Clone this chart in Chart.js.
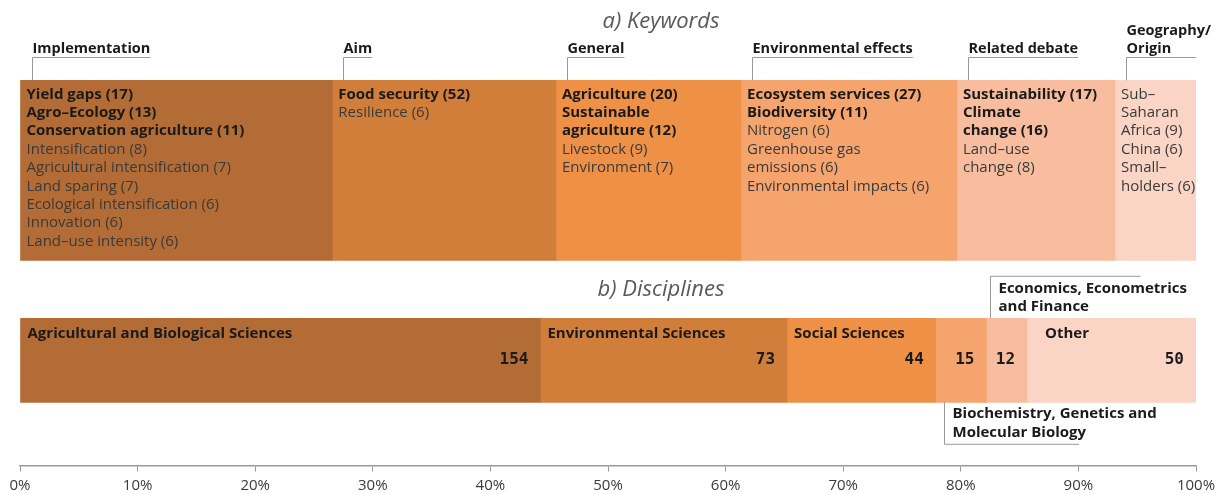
<!DOCTYPE html>
<html>
<head>
<meta charset="utf-8">
<script src="https://cdn.jsdelivr.net/npm/chart.js@4.4.0/dist/chart.umd.min.js"></script>
<style>
  html, body { margin: 0; padding: 0; background: #fff; }
  #wrap { width: 1226px; height: 494px; position: relative; }
</style>
</head>
<body>
<div id="wrap"><canvas id="chart"></canvas></div>
<script>
// ==================== DATA ====================
const panelTitles = ['a) Keywords', 'b) Disciplines'];

const keywordGroups = ['Implementation', 'Aim', 'General', 'Environmental effects', 'Related debate', 'Geography/\nOrigin'];
const keywordCounts = [81, 58, 48, 56, 41, 21];
const keywordItems = [
    ['Yield gaps (17)', 'Agro–Ecology (13)', 'Conservation agriculture (11)', 'Intensification (8)',
     'Agricultural intensification (7)', 'Land sparing (7)', 'Ecological intensification (6)',
     'Innovation (6)', 'Land–use intensity (6)'],
    ['Food security (52)', 'Resilience (6)'],
    ['Agriculture (20)', 'Sustainable\nagriculture (12)', 'Livestock (9)', 'Environment (7)'],
    ['Ecosystem services (27)', 'Biodiversity (11)', 'Nitrogen (6)', 'Greenhouse gas\nemissions (6)', 'Environmental impacts (6)'],
    ['Sustainability (17)', 'Climate\nchange (16)', 'Land–use\nchange (8)'],
    ['Sub–\nSaharan\nAfrica (9)', 'China (6)', 'Small–\nholders (6)']
];
const keywordBold = [3, 1, 2, 2, 2, 0];

const disciplineNames = ['Agricultural and Biological Sciences', 'Environmental Sciences', 'Social Sciences',
    'Biochemistry, Genetics and\nMolecular Biology', 'Economics, Econometrics\nand Finance', 'Other'];
const disciplineCounts = [154, 73, 44, 15, 12, 50];

const xTickValues = [0, 10, 20, 30, 40, 50, 60, 70, 80, 90, 100];

// ==================== STYLE ====================
const segmentColors = ['#B36C35', '#D27E3B', '#EE9045', '#F5A46D', '#F8BD9F', '#FAD5C5'];
const FONT = '"Open Sans", Lato, sans-serif';
const ROW = { keywords: 3.66, disciplines: 7.74 };

// ==================== BUILD DATASETS ====================
const toSpans = (counts) => {
    const total = counts.reduce((s, v) => s + v, 0);
    let acc = 0;
    return counts.map(v => {
        const start = acc / total * 100;
        acc += v;
        return [start, acc / total * 100];
    });
};

const keywordSpans = toSpans(keywordCounts);
const disciplineSpans = toSpans(disciplineCounts);

const datasets = [
    ...keywordGroups.map((g, i) => ({
        label: g,
        data: [{ y: ROW.keywords, x: keywordSpans[i] }],
        backgroundColor: segmentColors[i],
        barThickness: 180
    })),
    ...disciplineNames.map((d, i) => ({
        label: d,
        data: [{ y: ROW.disciplines, x: disciplineSpans[i] }],
        backgroundColor: segmentColors[i],
        barThickness: 84
    }))
];

// ==================== TEXT PLUGIN ====================
const barBox = (chart, index) => {
    const { x, y, base, height } = chart.getDatasetMeta(index).data[0].getProps(['x', 'y', 'base', 'height'], true);
    return { left: Math.min(x, base), right: Math.max(x, base), top: y - height / 2, bottom: y + height / 2 };
};

const annotations = {
    id: 'annotations',
    afterDatasetsDraw(chart) {
        const ctx = chart.ctx;
        ctx.save();
        ctx.textBaseline = 'middle';

        const kTop = barBox(chart, 0).top;
        const dTop = barBox(chart, keywordGroups.length).top;

        // panel titles
        ctx.fillStyle = '#595959';
        ctx.font = 'italic 22px ' + FONT;
        ctx.textAlign = 'center';
        ctx.fillText(panelTitles[0], 661, kTop - 59);
        ctx.fillText(panelTitles[1], 661, dTop - 29);

        ctx.textAlign = 'left';
        ctx.strokeStyle = '#9a9a9a';
        ctx.lineWidth = 1;

        // keyword groups
        keywordGroups.forEach((group, i) => {
            const box = barBox(chart, i);
            const hx = Math.round(box.left + 11) + 0.5;
            const lineY = Math.round(box.top - 23) + 0.5;
            const headLines = group.split('\n');
            ctx.font = 'bold 14.5px ' + FONT;
            ctx.fillStyle = '#1a1a1a';
            headLines.forEach((l, k) => ctx.fillText(l, hx, lineY - 9 - (headLines.length - 1 - k) * 18));
            const w = Math.max(...headLines.map(l => ctx.measureText(l).width));
            ctx.beginPath();
            ctx.moveTo(Math.min(hx + w, box.right), lineY);
            ctx.lineTo(hx, lineY);
            ctx.lineTo(hx, box.top);
            ctx.stroke();

            let ty = box.top + 14;
            keywordItems[i].forEach((item, k) => {
                const bold = k < keywordBold[i];
                ctx.font = (bold ? 'bold ' : '') + '15px ' + FONT;
                ctx.fillStyle = bold ? '#1a1a1a' : '#3a3a3a';
                item.split('\n').forEach(l => {
                    ctx.fillText(l, box.left + 6, ty);
                    ty += 18.4;
                });
            });
        });

        // disciplines
        disciplineNames.forEach((name, i) => {
            const box = barBox(chart, keywordGroups.length + i);
            const lines = name.split('\n');

            ctx.font = 'bold 16px "DejaVu Sans Mono", monospace';
            ctx.fillStyle = '#1a1a1a';
            ctx.textAlign = 'right';
            ctx.fillText(String(disciplineCounts[i]), box.right - 12, box.top + 42);
            ctx.textAlign = 'left';

            ctx.font = 'bold 15px ' + FONT;
            if (i === 3) {
                // label below the bar with leader
                const lx = Math.round(box.left + 8) + 0.5;
                const tx = lx + 8;
                lines.forEach((l, k) => ctx.fillText(l, tx, box.bottom + 11 + k * 19));
                const w = ctx.measureText(lines[lines.length - 1]).width;
                ctx.beginPath();
                ctx.moveTo(lx, box.bottom);
                ctx.lineTo(lx, box.bottom + 42);
                ctx.lineTo(tx + w - 7, box.bottom + 42);
                ctx.stroke();
            } else if (i === 4) {
                // label above the bar with leader
                const lx = Math.round(box.left + 4) + 0.5;
                const tx = lx + 8;
                lines.forEach((l, k) => ctx.fillText(l, tx, box.top - 30 + k * 18));
                ctx.beginPath();
                ctx.moveTo(lx, box.top);
                ctx.lineTo(lx, box.top - 42);
                ctx.lineTo(lx + 150, box.top - 42);
                ctx.stroke();
            } else {
                const pad = i === disciplineNames.length - 1 ? 18 : 7;
                ctx.fillText(lines[0], box.left + pad, box.top + 15);
            }
        });

        ctx.restore();
    }
};

// ==================== CHART ====================
new Chart(document.getElementById('chart'), {
    type: 'bar',
    data: { datasets },
    plugins: [annotations],
    options: {
        indexAxis: 'y',
        responsive: true,
        maintainAspectRatio: false,
        animation: false,
        grouped: false,
        layout: { padding: { top: 0, left: 20, right: 30, bottom: -6 } },
        plugins: {
            legend: { display: false },
            tooltip: { enabled: false },
            title: { display: false }
        },
        scales: {
            y: {
                type: 'linear',
                min: 0,
                max: 10,
                reverse: true,
                offset: false,
                display: false
            },
            x: {
                type: 'linear',
                min: 0,
                max: 100,
                afterBuildTicks: (scale) => {
                    scale.ticks = xTickValues.map(v => ({ value: v }));
                },
                ticks: {
                    callback: (v) => v + '%',
                    color: '#3a3a3a',
                    font: { family: FONT, size: 15, lineHeight: 1.1 },
                    padding: 6,
                    maxRotation: 0,
                    autoSkip: false
                },
                grid: {
                    drawOnChartArea: false,
                    drawTicks: true,
                    tickLength: 6,
                    color: '#9a9a9a'
                },
                border: { display: true, color: '#9a9a9a', width: 1.5 }
            }
        }
    }
});
</script>
</body>
</html>
